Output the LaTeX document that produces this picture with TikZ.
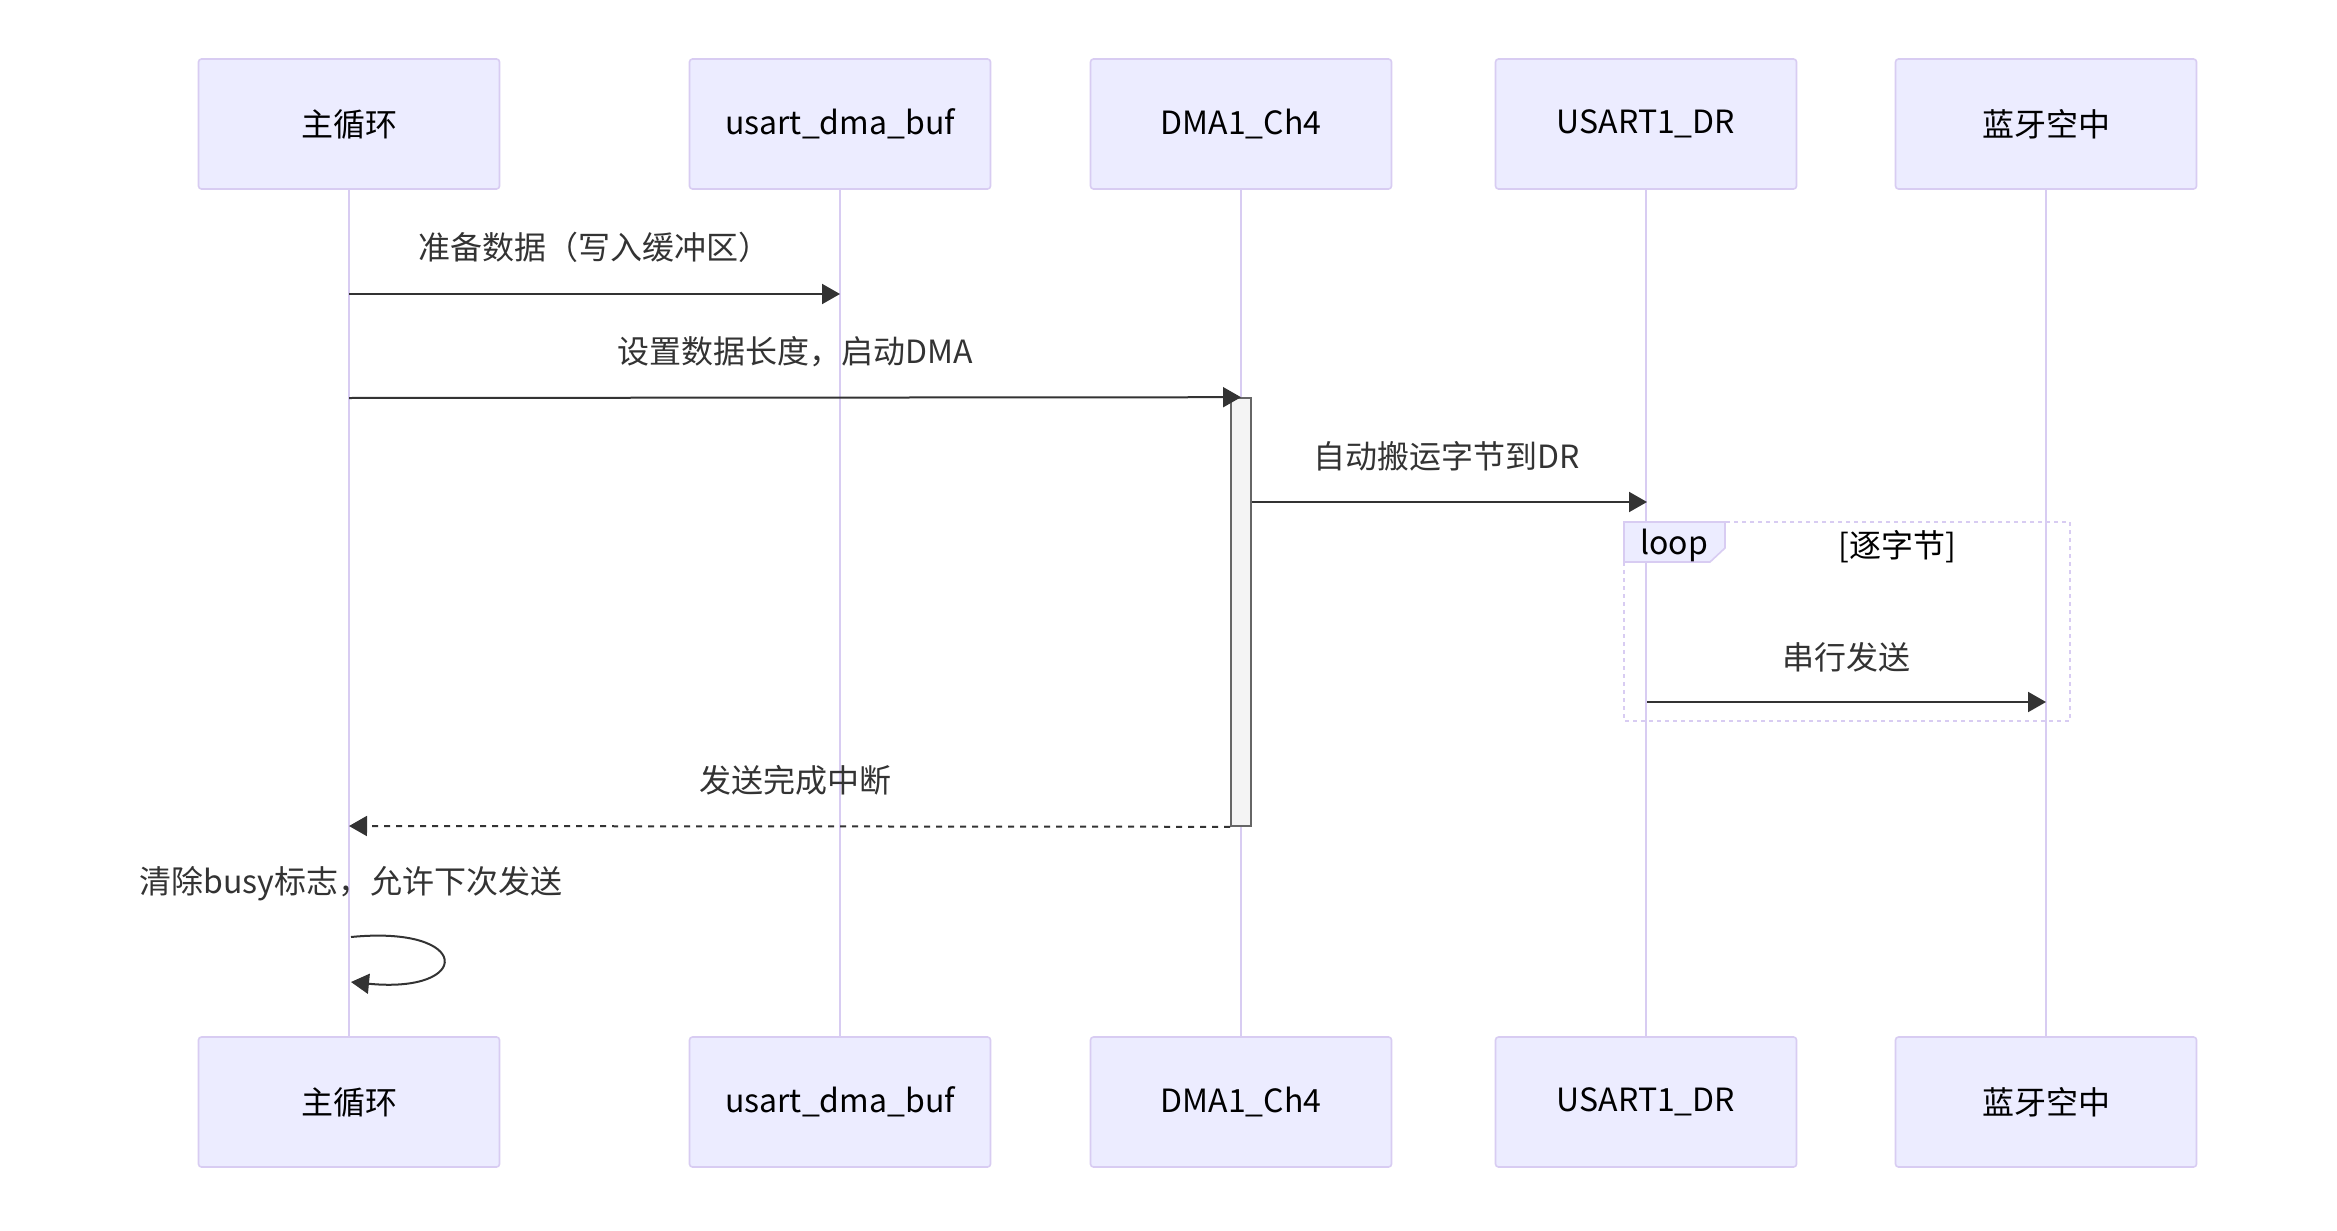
\documentclass[tikz,border=0pt]{standalone}
\usepackage{fontspec}
\setmainfont{Noto Sans CJK SC}
\usetikzlibrary{arrows.meta}

\definecolor{actfill}{HTML}{ECECFF}
\definecolor{actline}{HTML}{D8CCF2}
\definecolor{msgcol}{HTML}{333333}
\definecolor{actvfill}{HTML}{F4F4F4}
\definecolor{actvline}{HTML}{666666}

\tikzset{
    actor/.style={draw=actline, fill=actfill, rounded corners=1.5pt, line width=0.8pt,
        minimum width=150.5pt, minimum height=65pt, inner sep=0pt,
        font=\fontsize{16pt}{19pt}\selectfont},
    life/.style={draw=actline, line width=1.4pt},
    msg/.style={draw=msgcol, line width=1pt, -{Triangle[length=9pt,width=10pt]}},
    reply/.style={msg, dash pattern=on 3pt off 3pt},
    msgtext/.style={text=msgcol, inner sep=0pt, font=\fontsize{16pt}{19pt}\selectfont},
    actv/.style={draw=actvline, fill=actvfill, line width=0.8pt, minimum width=10pt,
        minimum height=214pt, inner sep=0pt},
    loopline/.style={draw=actline, line width=1.3pt, dash pattern=on 2pt off 2pt}
}

\begin{document}
\begin{tikzpicture}[x=0.5pt,y=-0.5pt]
    \useasboundingbox[fill=white] (0,0) rectangle (2337,1230);

    % participants
    \node[actor] (main) at (349,124) {主循环};
    \node[actor] (buf)  at (840,124) {usart\_dma\_buf};
    \node[actor] (dma)  at (1241,124) {DMA1\_Ch4};
    \node[actor] (dr)   at (1646,124) {USART1\_DR};
    \node[actor] (bt)   at (2046,124) {蓝牙空中};

    \node[actor] (mainB) at (349,1102) {主循环};
    \node[actor] (bufB)  at (840,1102) {usart\_dma\_buf};
    \node[actor] (dmaB)  at (1241,1102) {DMA1\_Ch4};
    \node[actor] (drB)   at (1646,1102) {USART1\_DR};
    \node[actor] (btB)   at (2046,1102) {蓝牙空中};

    % lifelines
    \draw[life] (main) -- (mainB);
    \draw[life] (buf) -- (bufB);
    \draw[life] (dma) -- (dmaB);
    \draw[life] (dr) -- (drB);
    \draw[life] (bt) -- (btB);

    % loop frame
    \draw[loopline] (1624,522) rectangle (2070,721);
    \draw[draw=actline, fill=actfill, line width=0.8pt]
        (1624,522) -- (1725,522) -- (1725,548) -- (1710,562) -- (1624,562) -- cycle;
    \node[inner sep=0pt, font=\fontsize{16pt}{19pt}\selectfont] (looplbl) at (1674,545) {loop};
    \node[inner sep=0pt, font=\fontsize{16pt}{19pt}\selectfont] (loopcond) at (1897,547) {[逐字节]};

    % activation
    \node[actv] (act) at (1241,612) {};

    % message end points
    \coordinate (m1a) at (349,294);
    \coordinate (m1b) at (840,294);
    \coordinate (m2a) at (349,398);
    \coordinate (m3b) at (1647,502);
    \coordinate (m4a) at (1647,702);
    \coordinate (m4b) at (2046,702);
    \coordinate (m5b) at (349,826);
    \coordinate (s1)  at (351,937);
    \coordinate (s2)  at (351,982);

    % messages
    \draw[msg] (m1a) -- (m1b);
    \node[msgtext] (t1) at (594,247) {准备数据（写入缓冲区）};

    \draw[msg] (m2a) -- (act.north);
    \node[msgtext] (t2) at (795,352) {设置数据长度，启动DMA};

    \draw[msg] (act.east |- m3b) -- (m3b);
    \node[msgtext] (t3) at (1447,456) {自动搬运字节到DR};

    \draw[msg] (m4a) -- (m4b);
    \node[msgtext] (t4) at (1846,657) {串行发送};

    \draw[reply] (act.south west) -- (m5b);
    \node[msgtext] (t5) at (795,780) {发送完成中断};

    \node[msgtext] (t6) at (351,884) {清除busy标志，允许下次发送};
    \draw[msg] (s1) .. controls (473,925) and (473,994) .. (s2);
\end{tikzpicture}
\end{document}
